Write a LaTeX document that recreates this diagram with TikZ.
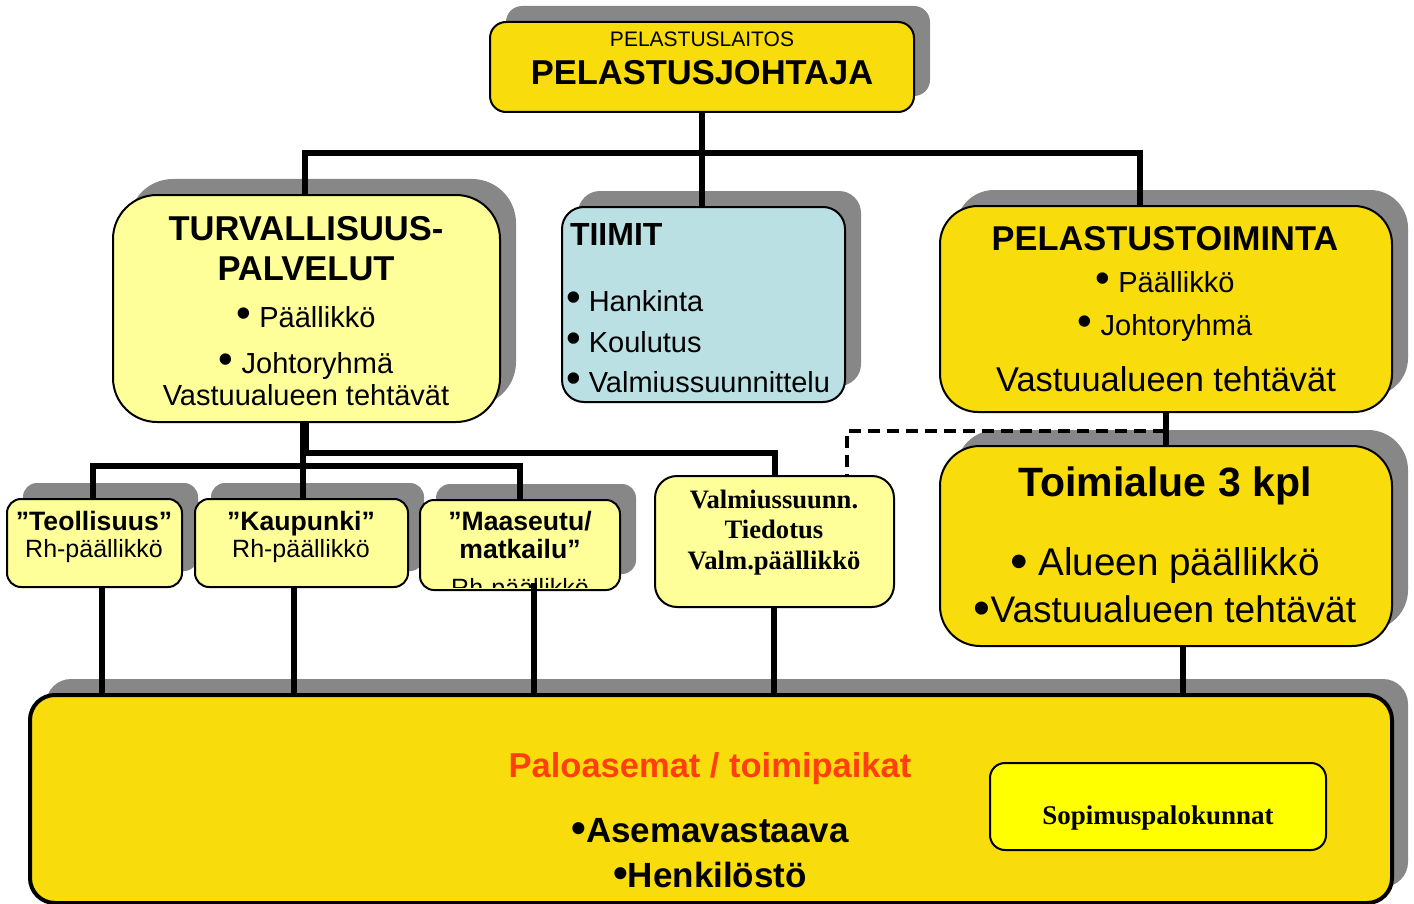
\documentclass[tikz,border=0pt]{standalone}
\usepackage{fontspec}
\setmainfont{Liberation Sans}
\newfontfamily\tmsfont{Liberation Serif}
\usetikzlibrary{shadows}
\definecolor{gold}{HTML}{F9DC0C}
\definecolor{lyel}{HTML}{FFFF99}
\definecolor{lblue}{HTML}{BBE0E4}
\definecolor{shgray}{HTML}{878787}
\definecolor{redtxt}{HTML}{FF3F0F}
\definecolor{pureyel}{HTML}{FFFF00}
\newcommand\myfs[1]{\fontsize{#1}{#1}\selectfont}
\newcommand\bul{\scalebox{1.45}{•}}
\newcommand\bulB{\raisebox{-0.08em}{\scalebox{1.3}{•}}}
\newcommand\bulC{\scalebox{1.2}{•}}
\begin{document}
\begin{tikzpicture}[x=0.5pt,y=-0.5pt,
  box/.style={draw=black, line width=1pt, rounded corners=#1, inner sep=0pt, outer sep=0pt},
  shbox/.style={box=#1, general shadow={fill=shgray, shadow xshift=8pt, shadow yshift=8pt}},
  conn/.style={line width=2.75pt, black},
  dashconn/.style={line width=1.8pt, black, dash pattern=on 6pt off 3.5pt},
  t/.style={inner sep=0pt, outer sep=0pt, anchor=base},
  tl/.style={inner sep=0pt, outer sep=0pt, anchor=base west}]
\useasboundingbox (0,0) rectangle (1414,904);
% boxes
\node[shbox=8pt, fill=gold, minimum width=212pt, minimum height=45pt] (top) at (702,67) {};
\node[shbox=22pt, fill=lyel, minimum width=193.5pt, minimum height=113.5pt] (turv) at (306.5,308.5) {};
\node[shbox=11pt, fill=lblue, minimum width=141.5pt, minimum height=97.5pt] (tiimit) at (703.5,304.5) {};
\node[shbox=19pt, fill=gold, minimum width=226pt, minimum height=103pt] (pel) at (1166,309) {};
\node[shbox=20pt, fill=gold, minimum width=226pt, minimum height=100pt] (toim) at (1166,546) {};
\node[box=11pt, fill=lyel, minimum width=119.5pt, minimum height=65.5pt] (valm) at (774.5,541.5) {};
\node[shbox=7pt, fill=lyel, minimum width=87.5pt, minimum height=44pt] (teol) at (94.5,543) {};
\node[shbox=7pt, fill=lyel, minimum width=106.5pt, minimum height=44pt] (kaup) at (301.5,543) {};
\node[shbox=7pt, fill=lyel, minimum width=100pt, minimum height=45pt] (maas) at (520,545) {};
\node[shbox=12.5pt, fill=gold, line width=2pt, minimum width=681pt, minimum height=104pt] (bottom) at (711,799) {};
\node[box=7.5pt, fill=pureyel, minimum width=168pt, minimum height=43.5pt] (sopi) at (1158,806.5) {};
% helper coordinates
\coordinate (hubA) at (702,153);
\coordinate (xT) at (305,0);
\coordinate (xP) at (1140,0);
\coordinate (xK) at (303,0);
\coordinate (hB) at (0,453);
\coordinate (hC) at (303,466);
\coordinate (xV) at (775,0);
\coordinate (xTe) at (93,0);
\coordinate (xM) at (520,0);
\coordinate (dA) at (1165,431);
\coordinate (xD) at (847,0);
\coordinate (xL1) at (102,0);
\coordinate (xL2) at (294,0);
\coordinate (mStart) at (534,583);
\coordinate (xL4) at (774,0);
\coordinate (xL5) at (1183,0);
% connectors
\draw[conn] (top.south) -- (hubA);
\draw[conn] (hubA) -| (turv.north -| xT);
\draw[conn] (hubA) -- (hubA |- tiimit.north);
\draw[conn] (hubA) -| (pel.north -| xP);
\draw[conn] (turv.south -| xK) -- (kaup.north -| xK);
\draw[conn] (turv.south) |- (xV |- hB) -- (valm.north -| xV);
\draw[conn] (hC) -| (teol.north -| xTe);
\draw[conn] (hC) -| (maas.north -| xM);
\draw[conn] (pel.south) -- (toim.north);
\draw[dashconn] (dA) -| (valm.north -| xD);
\draw[conn] (teol.south -| xL1) -- (bottom.north -| xL1);
\draw[conn] (kaup.south -| xL2) -- (bottom.north -| xL2);
\draw[conn] (valm.south -| xL4) -- (bottom.north -| xL4);
\draw[conn] (toim.south -| xL5) -- (bottom.north -| xL5);
% texts
\node[t] (t1) at (702,47) {\myfs{10.5}PELASTUSLAITOS};
\node[t] (t2) at (702,85) {\myfs{17.25}\bfseries PELASTUSJOHTAJA};
\node[t] (t3) at (306,240) {\myfs{17.25}\bfseries TURVALLISUUS-};
\node[t] (t4) at (306,280) {\myfs{17.25}\bfseries PALVELUT};
\node[t] (t5) at (306,327) {\myfs{14.5}\bul\ Päällikkö};
\node[t] (t6) at (306,373) {\myfs{14.5}\bul\ Johtoryhmä};
\node[t] (t7) at (306,405) {\myfs{14.5}Vastuualueen tehtävät};
\node[tl] (t8) at (570,245) {\myfs{16}\bfseries TIIMIT};
\node[tl] (t9) at (566,311) {\myfs{14.5}\bul\ Hankinta};
\node[tl] (t10) at (566,352) {\myfs{14.5}\bul\ Koulutus};
\node[tl] (t11) at (566,392) {\myfs{14.5}\bul\ Valmiussuunnittelu};
\node[t] (t12) at (1165,250) {\myfs{17.2}\bfseries PELASTUSTOIMINTA};
\node[t] (t13) at (1165,292) {\myfs{14.5}\bul\ Päällikkö};
\node[t] (t14) at (1165,335) {\myfs{14.5}\bul\ Johtoryhmä};
\node[t] (t15) at (1166,391) {\myfs{17.2}Vastuualueen tehtävät};
\node[t] (t16) at (1165,496) {\myfs{20.5}\bfseries Toimialue 3 kpl};
\node[t] (t17) at (1165,575) {\myfs{19.3}\bulB\ Alueen päällikkö};
\node[t] (t18) at (1165,622) {\myfs{18.5}\bulB Vastuualueen tehtävät};
\node[t] (t19) at (774,508) {\myfs{13.3}\tmsfont\bfseries Valmiussuunn.};
\node[t] (t20) at (774,538) {\myfs{13.3}\tmsfont\bfseries Tiedotus};
\node[t] (t21) at (774,569) {\myfs{13.3}\tmsfont\bfseries Valm.päällikkö};
\node[t] (t22) at (94,530) {\myfs{13.3}\bfseries ”Teollisuus”};
\node[t] (t23) at (94,557) {\myfs{12.5}Rh-päällikkö};
\node[t] (t24) at (301,530) {\myfs{13.3}\bfseries ”Kaupunki”};
\node[t] (t25) at (301,557) {\myfs{12.5}Rh-päällikkö};
\node[t] (t26) at (520,530) {\myfs{13.3}\bfseries ”Maaseutu/};
\node[t] (t27) at (520,558) {\myfs{13.3}\bfseries matkailu”};
\begin{scope}
\clip (421,501) rectangle (619,587);
\node[t] (t28) at (520,596) {\myfs{12.5}Rh-päällikkö};
\end{scope}
\draw[conn] (mStart) -- (bottom.north -| mStart);
\node[t, text=redtxt] (t29) at (710,777) {\myfs{17.25}\bfseries Paloasemat / toimipaikat};
\node[t] (t30) at (710,842) {\myfs{17.5}\bfseries \bulC Asemavastaava};
\node[t] (t31) at (710,887) {\myfs{17.5}\bfseries \bulC Henkilöstö};
\node[t] (t32) at (1158,824) {\myfs{13.5}\tmsfont\bfseries Sopimuspalokunnat};
\end{tikzpicture}
\end{document}
